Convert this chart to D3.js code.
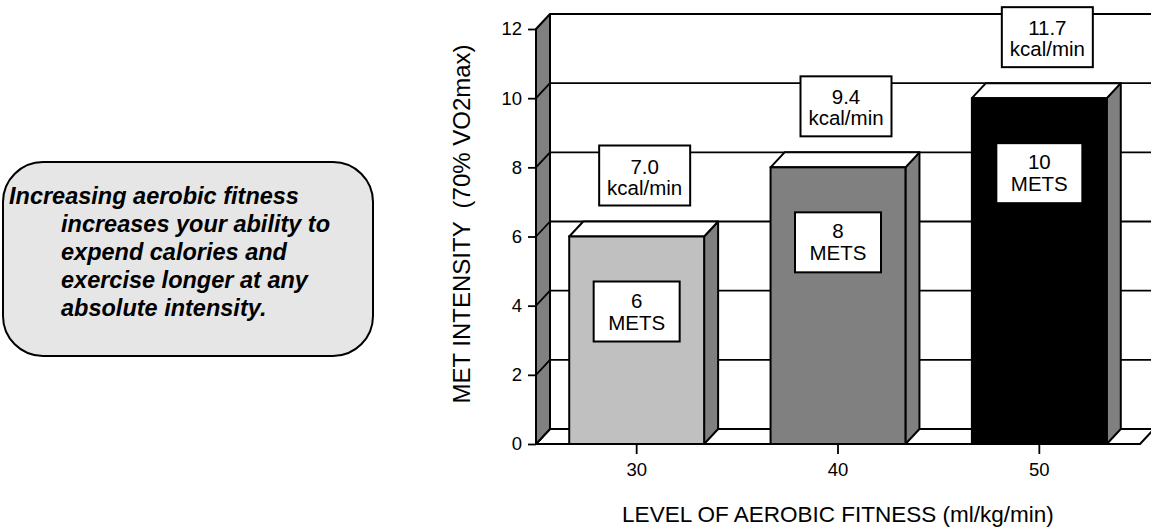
<!DOCTYPE html>
<html>
<head>
<meta charset="utf-8">
<script src="https://cdn.jsdelivr.net/npm/d3@7"></script>
<style>
  html, body { margin: 0; padding: 0; background: #ffffff; }
  svg { display: block; font-family: "Liberation Sans", Arial, sans-serif; }
</style>
</head>
<body>
<svg id="chart" width="1151" height="529"></svg>
<script>
// Aerobic fitness level (ml/kg/min) on the x axis
const categories = ["30", "40", "50"];
// MET intensity at 70% VO2max for each fitness level
const metValues = [6, 8, 10];
// Energy expenditure shown above each bar
const kcalLabels = ["7.0", "9.4", "11.7"];
// Y axis tick values
const yTicks = [0, 2, 4, 6, 8, 10, 12];
// Callout text lines
const noteLines = [
  "Increasing aerobic fitness",
  "increases your ability to",
  "expend calories and",
  "exercise longer at any",
  "absolute intensity."
];

const barFills = ["#c0c0c0", "#808080", "#000000"];
const sideFill = "#808080";
const DX = 14, DY = -15;   // depth offset of the back plane

const svg = d3.select("#chart");

const x = d3.scaleBand()
  .domain(categories)
  .range([536, 1140])
  .paddingInner(0.33)
  .paddingOuter(0.165);

const y = d3.scaleLinear().domain([0, 12]).range([444, 29]);

const poly = pts => pts.map(p => p.join(",")).join(" ");

// ---- Back wall with gridlines ----
const wall = svg.append("g");
const x0 = x.range()[0], x1 = x.range()[1];
wall.append("rect")
  .attr("x", x0 + DX).attr("y", y(12) + DY)
  .attr("width", x1 - x0 + 20).attr("height", y(0) - y(12))
  .attr("fill", "#ffffff");

// Floor
wall.append("polygon")
  .attr("points", poly([[x0, y(0)], [x1, y(0)], [x1 + DX, y(0) + DY], [x0 + DX, y(0) + DY]]))
  .attr("fill", "#ffffff").attr("stroke", "#000").attr("stroke-width", 2)
  .attr("stroke-linejoin", "round");

// Horizontal gridlines on the back wall
wall.selectAll("line.grid")
  .data(yTicks.filter(d => d > 0))
  .join("line")
  .attr("class", "grid")
  .attr("x1", x0 + DX).attr("x2", x1 + DX + 20)
  .attr("y1", d => y(d) + DY).attr("y2", d => y(d) + DY)
  .attr("stroke", "#000")
  .attr("stroke-width", d => d === 12 ? 2.2 : 1.8);

// Left side wall
wall.append("polygon")
  .attr("points", poly([[x0, y(0)], [x0, y(12)], [x0 + DX, y(12) + DY], [x0 + DX, y(0) + DY]]))
  .attr("fill", "#808080").attr("stroke", "#000").attr("stroke-width", 2)
  .attr("stroke-linejoin", "round");

wall.selectAll("line.wallgrid")
  .data(yTicks.filter(d => d > 0 && d < 12))
  .join("line")
  .attr("class", "wallgrid")
  .attr("x1", x0).attr("y1", d => y(d))
  .attr("x2", x0 + DX).attr("y2", d => y(d) + DY)
  .attr("stroke", "#000").attr("stroke-width", 1.8);

// ---- Y axis ----
const yAxis = d3.axisLeft(y).tickValues(yTicks).tickSize(8).tickPadding(6);
const yg = svg.append("g").attr("transform", `translate(${x0},0)`).call(yAxis);
yg.select(".domain").remove();
yg.selectAll(".tick line").attr("stroke", "#000").attr("stroke-width", 1.8);
yg.selectAll(".tick text")
  .attr("font-size", 18.5).attr("fill", "#000")
  .attr("font-family", "Liberation Sans, Arial, sans-serif");

// ---- X axis ----
const xAxis = d3.axisBottom(x).tickSize(10).tickPadding(9);
const xg = svg.append("g").attr("transform", `translate(0,${y(0)})`).call(xAxis);
xg.select(".domain").remove();
xg.selectAll(".tick line").attr("stroke", "#000").attr("stroke-width", 1.8);
xg.selectAll(".tick text")
  .attr("font-size", 18.5).attr("fill", "#000")
  .attr("font-family", "Liberation Sans, Arial, sans-serif");

// ---- 3D bars ----
const bars = svg.append("g").selectAll("g.bar")
  .data(categories.map((c, i) => ({ c, v: metValues[i], fill: barFills[i], kcal: kcalLabels[i] })))
  .join("g").attr("class", "bar");

bars.append("polygon")   // side face
  .attr("points", d => {
    const r = x(d.c) + x.bandwidth();
    return poly([[r, y(d.v)], [r + DX, y(d.v) + DY], [r + DX, y(0) + DY], [r, y(0)]]);
  })
  .attr("fill", sideFill).attr("stroke", "#000").attr("stroke-width", 2)
  .attr("stroke-linejoin", "round");

bars.append("polygon")   // top face
  .attr("points", d => {
    const l = x(d.c), r = l + x.bandwidth();
    return poly([[l, y(d.v)], [l + DX, y(d.v) + DY], [r + DX, y(d.v) + DY], [r, y(d.v)]]);
  })
  .attr("fill", "#ffffff").attr("stroke", "#000").attr("stroke-width", 2)
  .attr("stroke-linejoin", "round");

bars.append("rect")      // front face
  .attr("x", d => x(d.c))
  .attr("y", d => y(d.v))
  .attr("width", x.bandwidth())
  .attr("height", d => y(0) - y(d.v))
  .attr("fill", d => d.fill)
  .attr("stroke", "#000").attr("stroke-width", 2);

// Front floor edge drawn over the bar bottoms
svg.append("line")
  .attr("x1", x0).attr("x2", x1).attr("y1", y(0)).attr("y2", y(0))
  .attr("stroke", "#000").attr("stroke-width", 2);

// ---- Label boxes ----
function labelBox(g, cx, top, w, h, lines, firstBase, lineGap) {
  g.append("rect")
    .attr("x", cx - w / 2).attr("y", top).attr("width", w).attr("height", h)
    .attr("fill", "#ffffff").attr("stroke", "#000").attr("stroke-width", 2);
  lines.forEach((t, k) => {
    g.append("text")
      .attr("x", cx).attr("y", top + firstBase + k * lineGap)
      .attr("text-anchor", "middle")
      .attr("font-size", 20.5).attr("fill", "#000")
      .text(t);
  });
}

bars.each(function (d) {
  const g = d3.select(this);
  const cx = x(d.c) + x.bandwidth() / 2;
  // kcal/min box above the bar
  labelBox(g, cx + 8, y(d.v) - 31 - 60, 91, 60, [d.kcal, "kcal/min"], 28, 21);
  // METs box inside the bar
  labelBox(g, cx, y(d.v) + 45, 86, 60, [String(d.v), "METS"], 26, 22);
});

// ---- Axis titles ----
svg.append("text")
  .attr("x", 838).attr("y", 522)
  .attr("text-anchor", "middle")
  .attr("font-size", 22.5).attr("fill", "#000")
  .text("LEVEL OF AEROBIC FITNESS (ml/kg/min)");

svg.append("text")
  .attr("transform", "translate(470,224) rotate(-90)")
  .attr("text-anchor", "middle")
  .attr("font-size", 24).attr("fill", "#000")
  .style("white-space", "pre")
  .text("MET INTENSITY  (70% VO2max)");

// ---- Callout box ----
const note = svg.append("g");
note.append("rect")
  .attr("x", 3).attr("y", 162).attr("width", 370).attr("height", 194)
  .attr("rx", 40).attr("ry", 40)
  .attr("fill", "#e6e6e6").attr("stroke", "#000").attr("stroke-width", 2);

note.selectAll("text")
  .data(noteLines)
  .join("text")
  .attr("x", (d, i) => i === 0 ? 9 : 61)
  .attr("y", (d, i) => 204 + i * 28)
  .attr("font-size", 23.5)
  .attr("font-weight", "bold")
  .attr("font-style", "italic")
  .attr("fill", "#000")
  .text(d => d);
</script>
</body>
</html>
